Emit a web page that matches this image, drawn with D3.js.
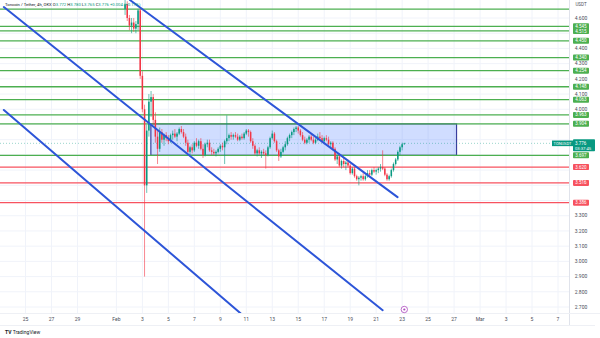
<!DOCTYPE html>
<html>
<head>
<meta charset="utf-8">
<script src="https://cdn.jsdelivr.net/npm/d3@7"></script>
<style>
    body { margin: 0; background: #fff; }
    svg { display: block; font-family: "Roboto", "Liberation Sans", sans-serif; }
</style>
</head>
<body>
<div id="chart"></div>
<script>
// ---- data ----
const candleStart = Date.UTC(2025, 1, 1, 16);   // first 4h bar
const barHours = 4;

// [open, high, low, close]
const candles = [
    [4.66, 4.72, 4.62, 4.69], [4.69, 4.71, 4.58, 4.60], [4.60, 4.62, 4.52, 4.55], [4.55, 4.60, 4.50, 4.57],
    [4.57, 4.60, 4.51, 4.53], [4.53, 4.58, 4.50, 4.56], [4.56, 4.66, 4.52, 4.65], [4.65, 4.67, 4.20, 4.22],
    [4.22, 4.25, 3.98, 4.00], [4.00, 4.03, 2.90, 3.50], [3.50, 3.90, 3.45, 3.86], [3.86, 4.10, 3.82, 4.05],
    [4.05, 4.12, 3.95, 4.08], [4.08, 4.10, 3.90, 3.93], [3.93, 3.98, 3.78, 3.82], [3.82, 3.86, 3.64, 3.74],
    [3.74, 3.88, 3.72, 3.85], [3.85, 3.87, 3.78, 3.80], [3.80, 3.84, 3.76, 3.83], [3.83, 3.85, 3.79, 3.81],
    [3.81, 3.83, 3.77, 3.79], [3.79, 3.84, 3.78, 3.83], [3.83, 3.86, 3.80, 3.84], [3.84, 3.87, 3.81, 3.82],
    [3.82, 3.85, 3.79, 3.84], [3.84, 3.88, 3.83, 3.87], [3.87, 3.89, 3.84, 3.85], [3.85, 3.87, 3.81, 3.82],
    [3.82, 3.84, 3.76, 3.78], [3.78, 3.80, 3.71, 3.72], [3.72, 3.76, 3.70, 3.75], [3.75, 3.77, 3.71, 3.73],
    [3.73, 3.79, 3.72, 3.78], [3.78, 3.81, 3.75, 3.76], [3.76, 3.80, 3.74, 3.79], [3.79, 3.81, 3.73, 3.74],
    [3.74, 3.77, 3.68, 3.70], [3.70, 3.78, 3.69, 3.77], [3.77, 3.80, 3.75, 3.78], [3.78, 3.80, 3.72, 3.73],
    [3.73, 3.75, 3.70, 3.72], [3.72, 3.74, 3.70, 3.71], [3.71, 3.73, 3.69, 3.72], [3.72, 3.75, 3.71, 3.74],
    [3.74, 3.77, 3.72, 3.76], [3.76, 3.78, 3.73, 3.75], [3.75, 3.80, 3.64, 3.79], [3.79, 3.96, 3.77, 3.81],
    [3.81, 3.84, 3.79, 3.83], [3.83, 3.85, 3.80, 3.82], [3.82, 3.84, 3.80, 3.83], [3.83, 3.85, 3.81, 3.82],
    [3.82, 3.84, 3.79, 3.80], [3.80, 3.83, 3.79, 3.82], [3.82, 3.84, 3.80, 3.81], [3.81, 3.85, 3.80, 3.84],
    [3.84, 3.87, 3.83, 3.86], [3.86, 3.87, 3.82, 3.85], [3.85, 3.86, 3.78, 3.79], [3.79, 3.81, 3.74, 3.76],
    [3.76, 3.77, 3.70, 3.71], [3.71, 3.74, 3.69, 3.73], [3.73, 3.75, 3.70, 3.71], [3.71, 3.73, 3.68, 3.72],
    [3.72, 3.74, 3.70, 3.71], [3.71, 3.73, 3.61, 3.70], [3.70, 3.76, 3.69, 3.75], [3.75, 3.82, 3.74, 3.81],
    [3.81, 3.86, 3.80, 3.84], [3.84, 3.85, 3.78, 3.79], [3.79, 3.80, 3.72, 3.73], [3.73, 3.74, 3.66, 3.69],
    [3.69, 3.74, 3.68, 3.72], [3.72, 3.76, 3.71, 3.75], [3.75, 3.79, 3.73, 3.77], [3.77, 3.82, 3.76, 3.81],
    [3.81, 3.84, 3.79, 3.83], [3.83, 3.86, 3.81, 3.85], [3.85, 3.88, 3.83, 3.87], [3.87, 3.89, 3.85, 3.88],
    [3.88, 3.89, 3.84, 3.86], [3.86, 3.87, 3.82, 3.83], [3.83, 3.85, 3.79, 3.80], [3.80, 3.82, 3.77, 3.78],
    [3.78, 3.81, 3.77, 3.80], [3.80, 3.83, 3.78, 3.82], [3.82, 3.84, 3.79, 3.80], [3.80, 3.82, 3.77, 3.78],
    [3.78, 3.81, 3.77, 3.80], [3.80, 3.84, 3.79, 3.82], [3.82, 3.85, 3.80, 3.81], [3.81, 3.83, 3.78, 3.79],
    [3.79, 3.82, 3.77, 3.81], [3.81, 3.83, 3.79, 3.80], [3.80, 3.82, 3.76, 3.77], [3.77, 3.79, 3.75, 3.78],
    [3.78, 3.79, 3.73, 3.74], [3.74, 3.75, 3.66, 3.67], [3.67, 3.70, 3.64, 3.69], [3.69, 3.71, 3.62, 3.63],
    [3.63, 3.67, 3.61, 3.66], [3.66, 3.68, 3.62, 3.64], [3.64, 3.66, 3.60, 3.65], [3.65, 3.67, 3.62, 3.63],
    [3.63, 3.64, 3.57, 3.58], [3.58, 3.62, 3.57, 3.61], [3.61, 3.62, 3.55, 3.56], [3.56, 3.57, 3.53, 3.54],
    [3.54, 3.56, 3.50, 3.55], [3.55, 3.57, 3.53, 3.56], [3.56, 3.58, 3.53, 3.54], [3.54, 3.57, 3.53, 3.56],
    [3.56, 3.60, 3.55, 3.58], [3.58, 3.60, 3.56, 3.57], [3.57, 3.61, 3.56, 3.60], [3.60, 3.62, 3.58, 3.59],
    [3.59, 3.61, 3.57, 3.60], [3.60, 3.62, 3.58, 3.61], [3.61, 3.64, 3.59, 3.62], [3.62, 3.73, 3.60, 3.61],
    [3.61, 3.62, 3.56, 3.57], [3.57, 3.58, 3.53, 3.54], [3.54, 3.57, 3.53, 3.56], [3.56, 3.61, 3.55, 3.60],
    [3.60, 3.65, 3.59, 3.64], [3.64, 3.68, 3.63, 3.67], [3.67, 3.73, 3.66, 3.72], [3.72, 3.76, 3.70, 3.75],
    [3.75, 3.78, 3.73, 3.77], [3.772, 3.780, 3.765, 3.776]
];

const greenLevels = [4.659, 4.545, 4.515, 4.450, 4.340, 4.254, 4.148, 4.063, 3.963, 3.904, 3.697];
const redLevels = [3.620, 3.516, 3.386];
const priceTicks = [2.7, 2.8, 2.9, 3.0, 3.1, 3.2, 3.3, 3.4, 3.5, 3.6, 3.7, 3.8, 3.9, 4.0, 4.1, 4.2, 4.3, 4.4, 4.5, 4.6];

const dateTicks = ["2025-01-25", "2025-01-27", "2025-01-29", "2025-02-01", "2025-02-03", "2025-02-05",
    "2025-02-07", "2025-02-09", "2025-02-11", "2025-02-13", "2025-02-15", "2025-02-17", "2025-02-19",
    "2025-02-21", "2025-02-23", "2025-02-25", "2025-02-27", "2025-03-01", "2025-03-03", "2025-03-05", "2025-03-07"];

// trend lines: [start date, start price, end date, end price]
const channelLines = [
    ["2025-01-23T08:00Z", 4.672, "2025-02-21T12:00Z", 2.679],
    ["2025-01-23T08:00Z", 3.995, "2025-02-10T17:30Z", 2.646],
    ["2025-02-02T01:00Z", 4.718, "2025-02-22T15:30Z", 3.422]
];

const rangeBox = ["2025-02-03T15:40Z", "2025-02-27T04:30Z", 3.904, 3.697];

const lastPrice = 3.776;
const header = ["Toncoin / Tether, 4h, OKX", "3.772", "3.780", "3.765", "3.776", "+0.004 (+0.11%)"];

// ---- drawing ----
class CandleChart {

    constructor(_parentContainer) {
        this.parentContainer = _parentContainer;
        this.initVis();
    }

    initVis() {
        let vis = this;

        vis.width = 600;
        vis.height = 338;
        vis.plotRight = 569;
        vis.plotBottom = 313;

        vis.svg = d3.select("#" + vis.parentContainer).append("svg")
            .attr("width", vis.width)
            .attr("height", vis.height);

        vis.x = d3.scaleUtc()
            .domain([new Date("2025-01-25T00:00Z"), new Date("2025-03-07T00:00Z")])
            .range([25.5, 558]);

        vis.y = d3.scaleLinear()
            .domain([2.7, 4.6])
            .range([307, 18]);

        vis.svg.append("clipPath").attr("id", "plot-clip")
            .append("rect")
            .attr("x", 0).attr("y", 0)
            .attr("width", vis.plotRight).attr("height", vis.plotBottom);

        vis.plot = vis.svg.append("g").attr("clip-path", "url(#plot-clip)");

        vis.drawGrid();
        vis.drawBox();
        vis.drawLevels();
        vis.drawCandles();
        vis.drawChannels();
        vis.drawAxes();
        vis.drawLabels();
    }

    drawGrid() {
        let vis = this;

        vis.plot.selectAll(".vgrid")
            .data(dateTicks)
            .enter().append("line")
            .attr("class", "vgrid")
            .attr("x1", d => vis.x(new Date(d + "T00:00Z")))
            .attr("x2", d => vis.x(new Date(d + "T00:00Z")))
            .attr("y1", 0).attr("y2", vis.plotBottom)
            .style("stroke", "#f0f3fa")
            .style("stroke-width", 1)

        vis.plot.selectAll(".hgrid")
            .data(priceTicks)
            .enter().append("line")
            .attr("class", "hgrid")
            .attr("x1", 0).attr("x2", vis.plotRight)
            .attr("y1", d => vis.y(d))
            .attr("y2", d => vis.y(d))
            .style("stroke", "#f0f3fa")
            .style("stroke-width", 1)
    }

    drawBox() {
        let vis = this;
        let x0 = vis.x(new Date(rangeBox[0])), x1 = vis.x(new Date(rangeBox[1]));
        let y0 = vis.y(rangeBox[2]), y1 = vis.y(rangeBox[3]);

        vis.plot.append("rect")
            .attr("x", x0).attr("y", y0)
            .attr("width", x1 - x0).attr("height", y1 - y0)
            .style("fill", "rgba(41, 98, 255, 0.22)")
            .style("stroke", "#3a3f9e")
            .style("stroke-width", 1.2)
    }

    drawLevels() {
        let vis = this;

        let levels = greenLevels.map(v => ({ v: v, c: "#4caf50" }))
            .concat(redLevels.map(v => ({ v: v, c: "#f7525f" })));
        vis.levels = levels;

        vis.plot.selectAll(".level")
            .data(levels)
            .enter().append("line")
            .attr("class", "level")
            .attr("x1", 0).attr("x2", vis.plotRight)
            .attr("y1", d => vis.y(d.v))
            .attr("y2", d => vis.y(d.v))
            .style("stroke", d => d.c)
            .style("stroke-width", 1.3)

        // last price dotted line
        vis.plot.append("line")
            .attr("x1", 0).attr("x2", vis.plotRight)
            .attr("y1", vis.y(lastPrice)).attr("y2", vis.y(lastPrice))
            .style("stroke", "#089981")
            .style("stroke-width", 0.8)
            .style("stroke-dasharray", "1,2")
            .style("opacity", 0.5)
    }

    drawCandles() {
        let vis = this;
        let step = vis.x(new Date(candleStart + barHours * 3600e3)) - vis.x(new Date(candleStart));
        let bw = step * 0.7;

        let data = candles.map((c, i) => ({
            t: new Date(candleStart + i * barHours * 3600e3),
            o: c[0], h: c[1], l: c[2], c: c[3]
        }));
        let col = d => d.c >= d.o ? "#089981" : "#f23645";

        let g = vis.plot.selectAll(".candle")
            .data(data)
            .enter().append("g")
            .attr("class", "candle")

        g.append("line")
            .attr("x1", d => vis.x(d.t)).attr("x2", d => vis.x(d.t))
            .attr("y1", d => vis.y(d.h)).attr("y2", d => vis.y(d.l))
            .style("stroke", col)
            .style("stroke-width", 0.6)

        g.append("rect")
            .attr("x", d => vis.x(d.t) - bw / 2)
            .attr("width", bw)
            .attr("y", d => vis.y(Math.max(d.o, d.c)))
            .attr("height", d => Math.max(0.6, Math.abs(vis.y(d.o) - vis.y(d.c))))
            .style("fill", col)
    }

    drawChannels() {
        let vis = this;

        vis.plot.selectAll(".channel")
            .data(channelLines)
            .enter().append("line")
            .attr("class", "channel")
            .attr("x1", d => vis.x(new Date(d[0])))
            .attr("y1", d => vis.y(d[1]))
            .attr("x2", d => vis.x(new Date(d[2])))
            .attr("y2", d => vis.y(d[3]))
            .style("stroke", "#2d55d8")
            .style("stroke-width", 2)
            .style("stroke-linecap", "round")
    }

    drawAxes() {
        let vis = this;

        // pane borders
        vis.svg.append("line")
            .attr("x1", vis.plotRight + 0.5).attr("x2", vis.plotRight + 0.5)
            .attr("y1", 0).attr("y2", 325)
            .style("stroke", "#e0e3eb")
        vis.svg.append("line")
            .attr("x1", 0).attr("x2", vis.width)
            .attr("y1", vis.plotBottom + 0.5).attr("y2", vis.plotBottom + 0.5)
            .style("stroke", "#eef0f5")
        vis.svg.append("line")
            .attr("x1", 0).attr("x2", 595)
            .attr("y1", 325.5).attr("y2", 325.5)
            .style("stroke", "#eef0f5")

        let fmtDay = d => {
            let dt = new Date(d + "T00:00Z");
            if (dt.getUTCDate() === 1) return d3.utcFormat("%b")(dt);
            return dt.getUTCDate();
        };

        vis.svg.selectAll(".xlab")
            .data(dateTicks)
            .enter().append("text")
            .attr("class", "xlab")
            .attr("x", d => vis.x(new Date(d + "T00:00Z")))
            .attr("y", 320.5)
            .attr("text-anchor", "middle")
            .style("font-size", "5px")
            .style("fill", "#4a4e5a")
            .text(fmtDay)

        // price ticks, hidden where a level label sits
        let labelled = vis.levels.filter(d => d.v < 4.6).map(d => vis.y(d.v)).concat([vis.y(lastPrice)]);
        let ticks = priceTicks.filter(t => labelled.every(ly => Math.abs(vis.y(t) - ly) > 5));

        vis.svg.selectAll(".ylab")
            .data(ticks)
            .enter().append("text")
            .attr("class", "ylab")
            .attr("x", 581)
            .attr("y", d => vis.y(d))
            .attr("dy", "0.35em")
            .attr("text-anchor", "middle")
            .style("font-size", "5px")
            .style("fill", "#4a4e5a")
            .text(d => d3.format(".3f")(d))

        vis.svg.append("text")
            .attr("x", 581).attr("y", 6)
            .attr("text-anchor", "middle")
            .style("font-size", "4.5px")
            .style("fill", "#4a4e5a")
            .text("USDT")
    }

    drawLabels() {
        let vis = this;

        let tags = vis.svg.selectAll(".tag")
            .data(vis.levels.filter(d => d.v < 4.6))
            .enter().append("g")
            .attr("class", "tag")
            .attr("transform", d => "translate(573," + vis.y(d.v) + ")")

        tags.append("rect")
            .attr("x", 0).attr("y", -3)
            .attr("width", 16).attr("height", 6)
            .attr("rx", 0.8)
            .style("fill", d => d.c)

        tags.append("text")
            .attr("x", 8).attr("y", 0)
            .attr("dy", "0.35em")
            .attr("text-anchor", "middle")
            .style("font-size", "4.5px")
            .style("fill", "#fff")
            .text(d => d3.format(".3f")(d.v))

        // current price tag
        let yp = vis.y(lastPrice);
        vis.svg.append("rect")
            .attr("x", 552).attr("y", yp - 2.8)
            .attr("width", 21).attr("height", 5.6)
            .style("fill", "#089981")
        vis.svg.append("text")
            .attr("x", 562.5).attr("y", yp)
            .attr("dy", "0.35em")
            .attr("text-anchor", "middle")
            .style("font-size", "4px")
            .style("fill", "#fff")
            .text("TONUSDT")
        vis.svg.append("rect")
            .attr("x", 573).attr("y", yp - 4)
            .attr("width", 22).attr("height", 12)
            .attr("rx", 0.8)
            .style("fill", "#089981")
        vis.svg.append("text")
            .attr("x", 575).attr("y", yp)
            .attr("dy", "0.35em")
            .style("font-size", "4.5px")
            .style("fill", "#fff")
            .text(d3.format(".3f")(lastPrice))
        vis.svg.append("text")
            .attr("x", 575).attr("y", yp + 5)
            .attr("dy", "0.35em")
            .style("font-size", "4.2px")
            .style("fill", "#fff")
            .text("03:37:45")

        // header
        let h = vis.svg.append("text")
            .attr("x", 5).attr("y", 6)
            .style("font-size", "4.2px")
            .style("fill", "#131722")
        h.append("tspan").text(header[0] + "  ")
        let parts = [["O", header[1]], ["H", header[2]], ["L", header[3]], ["C", header[4]]];
        parts.forEach(p => {
            h.append("tspan").text(" " + p[0])
            h.append("tspan").style("fill", "#089981").text(p[1])
        })
        h.append("tspan").style("fill", "#089981").text(" " + header[5])

        // event marker near the time axis
        let mx = vis.x(new Date("2025-02-23T04:00Z"));
        vis.svg.append("circle")
            .attr("cx", mx).attr("cy", 309.5)
            .attr("r", 3.2)
            .style("fill", "#fff")
            .style("stroke", "#ab47bc")
            .style("stroke-width", 0.8)
        vis.svg.append("circle")
            .attr("cx", mx).attr("cy", 309.5)
            .attr("r", 1.1)
            .style("fill", "#ab47bc")

        // logo
        let logo = vis.svg.append("text")
            .attr("x", 5).attr("y", 333.5)
            .style("font-size", "5px")
            .style("fill", "#131722")
        logo.append("tspan").style("font-weight", "bold").text("TV ")
        logo.append("tspan").text("TradingView")
    }
}

new CandleChart("chart");
</script>
</body>
</html>
